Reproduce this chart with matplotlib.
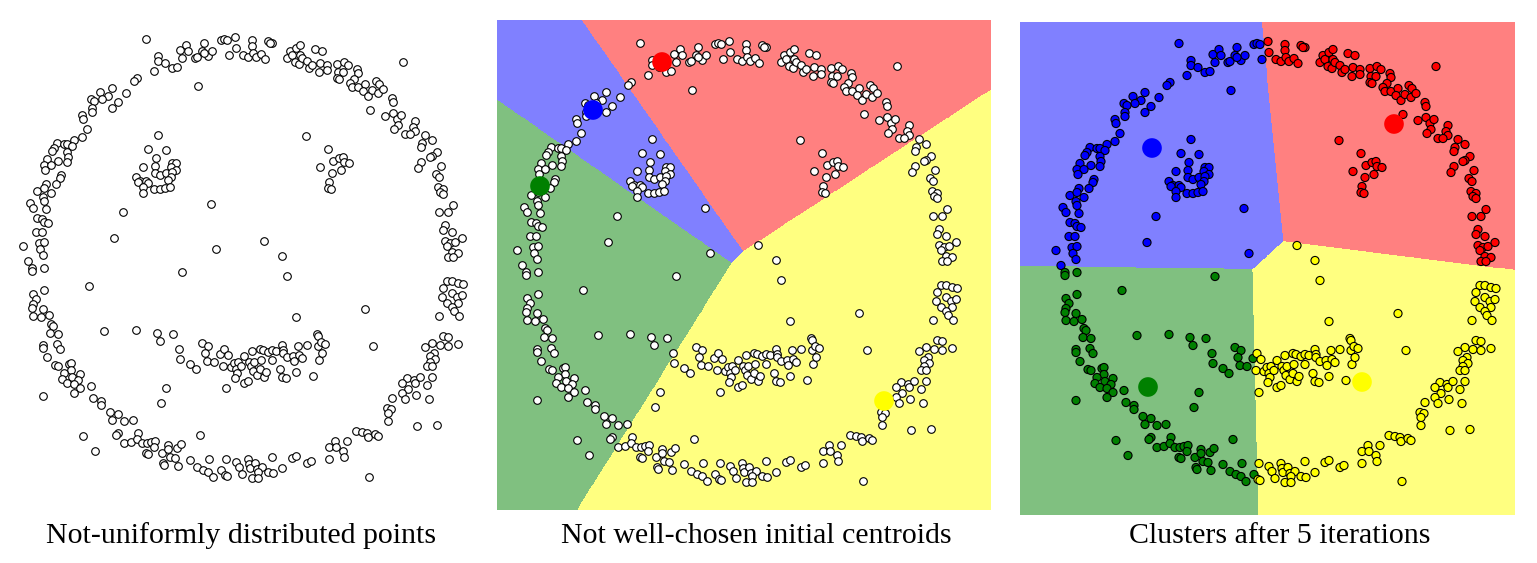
import numpy as np
import matplotlib
matplotlib.use('Agg')
from matplotlib import pyplot as plt
from matplotlib.colors import to_rgb

# smiley data set (x right, y down)
ring_top_left = [(146,39),(158,56),(158,61),(165,63),(154,71),(137,78),(134,81),(112,88),(126,93),(100,92),
                 (108,96),(102,99),(91,99),(94,101),(118,102),(112,108),(92,108),(92,112),(82,115),(83,119),
                 (87,129),(82,137),(74,140),(57,143),(64,144),(67,144),(72,146),(54,148),(52,151),(67,152),
                 (68,157),(47,159),(58,161),(67,162),(44,165),(51,165),(45,170),(61,175),(60,178),(46,184),(56,184)]
left_eye = [(158,135),(148,149),(166,150),(156,158),(143,167),(155,166),(172,163),(176,163),(171,167),(176,170),
            (155,173),(160,175),(166,173),(172,172),(136,177),(140,181),(146,181),(171,177),(168,180),(138,182),
            (148,183),(143,187),(154,189),(160,189),(165,188),(143,193),(170,187)]
ring_top = [(172,68),(177,67),(180,50),(186,45),(188,51),(182,58),(195,58),(197,57),(202,51),(204,43),
            (208,56),(212,51),(204,53),(221,40),(224,39),(227,40),(235,37),(236,48),(229,55),(243,55),
            (248,57),(252,40),(252,46),(253,53),(256,57),(261,54),(265,59),(268,41),(272,43),(270,43),
            (198,86),(287,58),(290,51),(292,55),(296,48),(300,45),(300,55),(295,62),(299,64),(302,58),
            (307,61),(309,68),(312,65),(315,49),(319,72),(320,63),(306,136)]
ring_top_right = [(322,51),(327,65),(327,70),(337,64),(344,62),(348,65),(338,72),(343,72),(337,78),(339,79),
                  (357,69),(358,73),(354,79),(350,83),(352,87),(358,87),(365,84),(363,91),(368,96),(372,90),
                  (376,81),(379,84),(378,93),(383,89),(403,62),(392,98),(393,102),(370,110),(385,116),(393,113),
                  (397,119),(401,115),(398,125),(394,129),(415,121),(413,127),(415,131),(405,134),(410,134),(425,135),
                  (432,140),(422,143),(421,147),(437,152),(432,156),(430,157),(421,162),(418,168),(441,166),(436,174),
                  (439,177)]
right_eye = [(328,149),(320,167),(333,161),(339,158),(343,157),(344,162),(349,163),(341,170),(332,173),(329,182),
             (328,188),(331,189)]
ring_left = [(37,191),(44,188),(51,193),(43,197),(44,201),(30,203),(33,208),(46,209),(37,218),(42,219),
             (44,222),(48,223),(36,232),(42,232),(39,243),(44,242),(23,246),(40,249),(43,255),(28,261),
             (32,268),(32,271),(44,268),(44,290),(33,294),(36,299),(33,304),(32,308),(43,309),(33,316),
             (41,317),(49,315),(51,324),(53,326),(50,333),(58,334)]
noise = [(123,212),(114,238),(89,286),(104,331),(136,330),(157,333),(211,204),(264,241),(216,249),(282,256),
         (182,272),(287,276),(296,317),(173,334),(317,334),(365,309)]
ring_right = [(438,187),(443,189),(440,192),(443,194),(439,212),(448,212),(453,205),(445,225),(443,230),(452,232),
              (445,241),(450,243),(455,242),(462,238),(447,246),(452,252),(458,253),(448,257),(453,257),(447,281),
              (452,281),(458,283),(463,284),(443,288),(452,293),(442,297),(457,297),(462,295),(447,303),(458,303),
              (452,307),(454,311),(439,316),(459,316)]
ring_bottom_left = [(43,345),(43,348),(57,344),(60,349),(47,357),(55,365),(58,366),(69,364),(71,363),(71,370),
                    (64,373),(80,374),(62,379),(72,377),(78,380),(67,383),(74,384),(80,388),(74,393),(91,386),
                    (43,396),(93,398),(101,401),(101,405),(110,412),(118,414),(112,420),(124,421),(133,420),(83,436),
                    (118,433),(116,435),(138,433),(124,443),(131,442),(137,439),(142,443),(147,443),(151,442),(155,441),
                    (154,447),(146,453),(148,454),(162,453),(95,451),(163,463),(164,465),(160,341),(166,388),(161,403),
                    (168,445),(168,449),(170,457)]
mouth = [(179,349),(180,359),(190,364),(196,369),(202,343),(208,346),(205,353),(207,361),(214,362),(220,354),
         (224,349),(228,355),(223,366),(231,367),(234,363),(238,362),(236,369),(237,373),(235,378),(244,356),
         (241,366),(249,362),(251,366),(254,362),(253,371),(257,375),(260,369),(264,377),(266,372),(252,351),
         (260,349),(263,350),(261,360),(268,352),(272,350),(276,351),(272,360),(282,345),(283,350),(283,353),
         (287,357),(293,356),(298,346),(299,355),(294,361),(302,358),(307,345),(318,336),(318,346),(319,360),
         (313,376),(296,372),(280,369),(282,377),(286,378),(244,383),(248,381),(226,388),(200,435),
         (321,342),(325,344),(322,353),(373,346)]
ring_bottom = [(177,448),(181,444),(175,458),(178,466),(190,460),(197,467),(209,459),(203,470),(208,472),(213,477),
               (221,470),(225,475),(227,476),(226,459),(236,462),(239,467),(242,474),(248,459),(249,464),(250,468),
               (255,463),(257,469),(262,467),(258,472),(252,478),(258,478),(268,472),(273,473),(282,468),(272,457),
               (292,458),(296,456),(307,463),(311,461)]
ring_bottom_right = [(443,336),(448,337),(432,343),(425,347),(440,345),(448,346),(458,344),(434,353),(430,356),(435,359),
                     (430,362),(427,366),(432,366),(407,378),(402,383),(414,380),(415,383),(420,377),(432,377),(427,385),
                     (408,389),(402,393),(416,395),(405,399),(429,399),(392,398),(387,408),(391,409),(388,413),(388,421),
                     (417,426),(437,425),(356,431),(362,432),(367,433),(368,437),(375,434),(378,436),(335,441),(347,441),
                     (329,447),(336,447),(343,451),(344,457),(329,459),(369,477)]

groups = [ring_top_left, left_eye, ring_top, ring_top_right, right_eye, ring_left, noise,
          ring_right, ring_bottom_left, mouth, ring_bottom, ring_bottom_right]
pts = np.array([p for g in groups for p in g], dtype=float)

# centroids: order red, blue, green, yellow
names = ['red', 'blue', 'green', 'yellow']
init_centroids = np.array([(168, 58), (99, 106), (46, 182), (390, 397)], dtype=float)
final_centroids = np.array([(361, 119.5), (119, 143.5), (115, 382.5), (329, 377.5)], dtype=float)
dot_colors = ['#ff0000', '#0000ff', '#008000', '#ffff00']
region_colors = ['#ff8080', '#8080ff', '#80c080', '#ffff80']
titles = ['Not-uniformly distributed points', 'Not well-chosen initial centroids', 'Clusters after 5 iterations']

W, H = 1537, 563
fig = plt.figure(figsize=(W / 100, H / 100), dpi=100)


def add_panel(left, top, right, bottom, xlim, ylim):
    ax = fig.add_axes([left / W, (H - bottom) / H, (right - left) / W, (bottom - top) / H])
    ax.set_xlim(*xlim)
    ax.set_ylim(ylim[1], ylim[0])
    ax.axis('off')
    return ax


def nearest(xy, cents):
    d = ((xy[:, None, :] - cents[None, :, :]) ** 2).sum(axis=2)
    return d.argmin(axis=1)


def voronoi(ax, cents, xlim, ylim):
    gx = np.linspace(xlim[0], xlim[1], 1000)
    gy = np.linspace(ylim[0], ylim[1], 1000)
    XX, YY = np.meshgrid(gx, gy)
    lab = nearest(np.c_[XX.ravel(), YY.ravel()], cents).reshape(XX.shape)
    rgb = np.array([to_rgb(c) for c in region_colors])[lab]
    ax.imshow(rgb, extent=(xlim[0], xlim[1], ylim[1], ylim[0]), origin='upper',
              interpolation='nearest', aspect='auto', zorder=0)


msize = 30  # point marker area

# panel 1: raw points
xl, yl = (3, 496), (16, 506)
ax1 = add_panel(3, 16, 496, 506, xl, yl)
ax1.scatter(pts[:, 0], pts[:, 1], s=msize, facecolor='white', edgecolor='black', linewidth=0.8, zorder=2)

# panel 2: bad initial centroids
xl, yl = (3, 496), (16, 506)
ax2 = add_panel(497, 20, 990, 510, xl, yl)
voronoi(ax2, init_centroids, xl, yl)
ax2.scatter(pts[:, 0], pts[:, 1], s=msize, facecolor='white', edgecolor='black', linewidth=0.8, zorder=2)
ax2.scatter(init_centroids[:, 0], init_centroids[:, 1], s=200, c=dot_colors, linewidth=0, zorder=3)

# panel 3: after 5 iterations
xl, yl = (-13, 482), (17.5, 510.5)
ax3 = add_panel(1020, 22, 1515, 515, xl, yl)
voronoi(ax3, final_centroids, xl, yl)
lab = nearest(pts, final_centroids)
ax3.scatter(pts[:, 0], pts[:, 1], s=msize + 4, c=[dot_colors[i] for i in lab],
            edgecolor='black', linewidth=0.8, zorder=2)
ax3.scatter(final_centroids[:, 0], final_centroids[:, 1], s=200, c=dot_colors, linewidth=0, zorder=3)

for cx, t in zip([241, 756, 1280], titles):
    fig.text(cx / W, (H - 543) / H, t, ha='center', va='baseline', fontsize=21.5, family='Liberation Serif')

fig.savefig('out.png', dpi=100)
